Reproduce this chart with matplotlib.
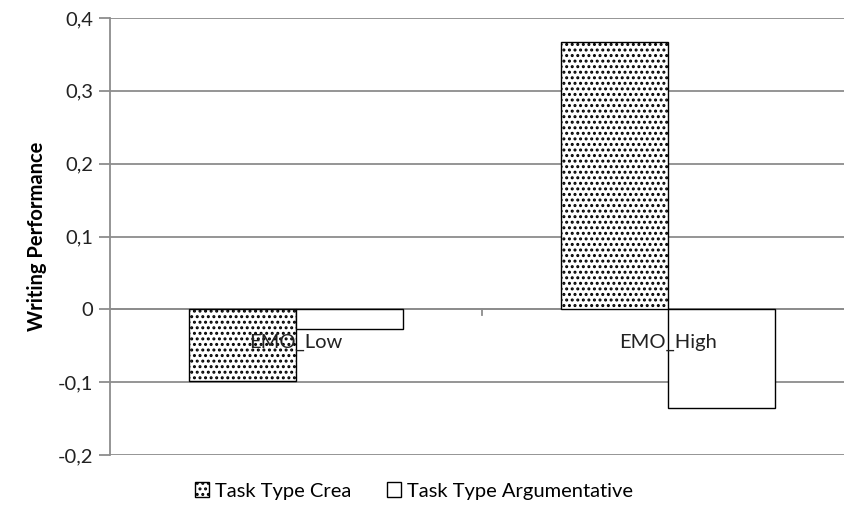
import matplotlib.pyplot as plt
import numpy as np
from matplotlib.patches import Patch
from matplotlib.ticker import FuncFormatter

categories = ['EMO_Low', 'EMO_High']
series_names = ['Task Type Crea', 'Task Type Argumentative']
crea = [-0.098, 0.367]
argumentative = [-0.027, -0.135]
y_ticks = [-0.2, -0.1, 0.0, 0.1, 0.2, 0.3, 0.4]

plt.rcParams['font.family'] = ['Lato', 'DejaVu Sans']
plt.rcParams['hatch.linewidth'] = 1.4

fig = plt.figure(figsize=(8.44, 5.2), dpi=100)
# plot area runs a little past the right edge, as in the source image
ax = fig.add_axes([110 / 844, 1 - 455 / 520, 744 / 844, 437 / 520])

x = np.arange(len(categories))
width = 0.288
grey = '#8c8c8c'
fs = 14.5

ax.bar(x - width / 2, crea, width, facecolor='white', edgecolor='black',
       hatch='...', linewidth=1.0, zorder=3)
ax.bar(x + width / 2, argumentative, width, facecolor='white', edgecolor='black',
       linewidth=1.0, zorder=3)

ax.set_xlim(-0.5, 1.5)
ax.set_ylim(-0.2, 0.4)
ax.set_yticks(y_ticks)
ax.yaxis.set_major_formatter(FuncFormatter(
    lambda v, p: '0' if abs(v) < 1e-9 else f'{v:.1f}'.replace('.', ',')))
ax.grid(axis='y', color=grey, linewidth=1.3, zorder=0)
ax.set_axisbelow(True)

for s in ['top', 'right', 'bottom']:
    ax.spines[s].set_visible(False)
ax.spines['left'].set_color(grey)
ax.spines['left'].set_linewidth(1.3)
ax.tick_params(axis='y', length=8, color=grey, width=1.3, labelsize=fs, pad=4,
               labelcolor='#222222')
ax.set_xticks([])

# zero line with category separator tick
ax.axhline(0, color=grey, linewidth=1.3, zorder=2)
ax.plot([0.5, 0.5], [0, -0.008], color=grey, linewidth=1.3, zorder=2)

for xi, name in zip(x, categories):
    ax.text(xi, -0.046, name, ha='center', va='center', fontsize=fs,
            color='#222222', zorder=4)

ax.set_ylabel('Writing Performance', fontsize=fs, fontweight='bold', labelpad=8)

handles = [
    Patch(facecolor='white', edgecolor='black', hatch='...', label=series_names[0]),
    Patch(facecolor='white', edgecolor='black', label=series_names[1]),
]
fig.legend(handles=handles, loc='center', bbox_to_anchor=(414 / 844, 1 - 491 / 520),
           ncol=2, frameon=False, fontsize=fs, handlelength=0.7, handleheight=0.7,
           handletextpad=0.3, columnspacing=1.8)

fig.savefig('out.png', dpi=100)
